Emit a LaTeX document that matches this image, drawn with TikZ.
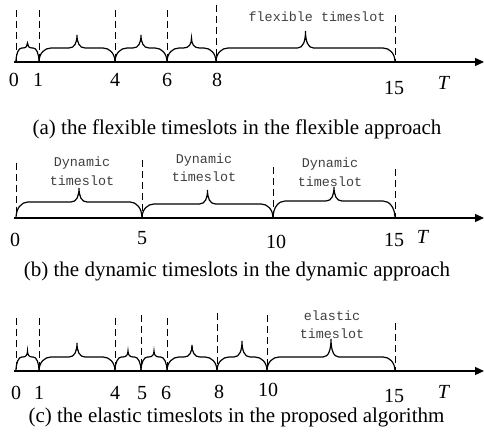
\documentclass[tikz,border=0pt]{standalone}
\usepackage{fontspec}
\setmainfont{Liberation Serif}
\setmonofont{Liberation Mono}
\usetikzlibrary{arrows.meta,calc}

% brace over one timeslot: [rise]{from}{to}{tip height}
\newcommand{\timebrace}[4][14]{%
  \draw[slotbrace] let \p1=(#2), \p2=(#3), \n1={0.5*(\x1+\x2)},
      \n2={min(12,0.25*(\x2-\x1))}, \n3={min(8,0.2*(\x2-\x1))}, \n4={0.6*(#4-#1)} in
    (\p1) .. controls +(0,0.6*#1) and +(-0.55*\n2,0) .. (\x1+\n2,\y1+#1)
    -- (\n1-\n3,\y1+#1) .. controls +(0.7*\n3,0) and +(0,-\n4) .. (\n1,\y1+#4)
    .. controls +(0,-\n4) and +(-0.7*\n3,0) .. (\n1+\n3,\y1+#1)
    -- (\x2-\n2,\y1+#1) .. controls +(0.55*\n2,0) and +(0,0.6*#1) .. (\p2);
}

\tikzset{
  timeaxis/.style={line width=1.3pt, -{Triangle[length=9pt,width=8pt]}},
  slotdash/.style={line width=1pt, dash pattern=on 7pt off 4pt},
  slotbrace/.style={line width=1.2pt},
  ticklabel/.style={font=\fontsize{20}{20}\selectfont, inner sep=0pt},
  slottext/.style={font=\ttfamily\fontsize{13.4}{18.5}\selectfont, text=black!75, align=center, inner sep=0pt},
  caption/.style={font=\fontsize{21}{21}\selectfont, inner sep=0pt, anchor=base},
}

\begin{document}
\begin{tikzpicture}[x=1pt, y=1pt]
  \useasboundingbox (0,0) rectangle (484,446);

  % (a) flexible approach
  \foreach \n/\x/\top in {0/16/436,1/39/436,4/115/436,6/167/436,8/216/441,15/395/431} {
    \coordinate (a\n) at (\x,384);
    \coordinate (a\n top) at (\x,\top);
    \draw[slotdash] (a\n top) -- (a\n);
  }
  \coordinate (aL) at (14,384);
  \coordinate (aR) at (484,384);
  \draw[timeaxis] (aL) -- (aR);
  \timebrace{a0}{a1}{19}
  \timebrace{a1}{a4}{27}
  \timebrace{a4}{a6}{27}
  \timebrace{a6}{a8}{24}
  \timebrace{a8}{a15}{31}
  \foreach \n/\x/\y in {0/14/366,1/38/366,4/115/366,6/167/366,8/217/366,15/394/358}
    \node[ticklabel] (la\n) at (\x,\y) {\n};
  \node[ticklabel] (aT) at (444,363) {\textit{T}};
  \node[slottext] (aslot) at (317,429) {flexible timeslot};
  \node[caption] (acap) at (237,311) {(a) the flexible timeslots in the flexible approach};

  % (b) dynamic approach
  \foreach \n/\x/\top in {0/16/283,5/142/286,10/273/279,15/395/277} {
    \coordinate (b\n) at (\x,228);
    \coordinate (b\n top) at (\x,\top);
    \draw[slotdash] (b\n top) -- (b\n);
  }
  \coordinate (bL) at (14,228);
  \coordinate (bR) at (484,228);
  \draw[timeaxis] (bL) -- (bR);
  \timebrace[16]{b0}{b5}{30}
  \timebrace[14]{b5}{b10}{28}
  \timebrace[17]{b10}{b15}{31}
  \foreach \n/\x/\y in {0/15/206,5/142/208,10/276/204,15/394/206}
    \node[ticklabel] (lb\n) at (\x,\y) {\n};
  \node[ticklabel] (bT) at (423,209) {\textit{T}};
  \node[slottext] (bslotA) at (82,275) {Dynamic\\timeslot};
  \node[slottext] (bslotB) at (204,278.5) {Dynamic\\timeslot};
  \node[slottext] (bslotC) at (330,274) {Dynamic\\timeslot};
  \node[caption] (bcap) at (237,169) {(b) the dynamic timeslots in the dynamic approach};

  % (c) proposed algorithm
  \foreach \n/\x/\top in {0/16/128,1/39/128,4/115/128,5/141/131,6/167/128,8/217/133,10/267/131,15/395/123} {
    \coordinate (c\n) at (\x,75);
    \coordinate (c\n top) at (\x,\top);
    \draw[slotdash] (c\n top) -- (c\n);
  }
  \coordinate (cL) at (14,75);
  \coordinate (cR) at (484,75);
  \draw[timeaxis] (cL) -- (cR);
  \timebrace{c0}{c1}{20}
  \timebrace{c1}{c4}{28}
  \timebrace{c4}{c5}{20}
  \timebrace{c5}{c6}{20}
  \timebrace{c6}{c8}{26}
  \timebrace{c8}{c10}{30}
  \timebrace{c10}{c15}{32}
  \foreach \n/\x/\y in {0/16/53,1/39/53,4/115/53,5/142/53,6/166/53,8/219/54,10/268/56,15/394/50}
    \node[ticklabel] (lc\n) at (\x,\y) {\n};
  \node[ticklabel] (cT) at (444,54) {\textit{T}};
  \node[slottext] (cslot) at (332,121.5) {elastic\\timeslot};
  \node[caption] (ccap) at (236.5,23) {(c) the elastic timeslots in the proposed algorithm};
\end{tikzpicture}
\end{document}
